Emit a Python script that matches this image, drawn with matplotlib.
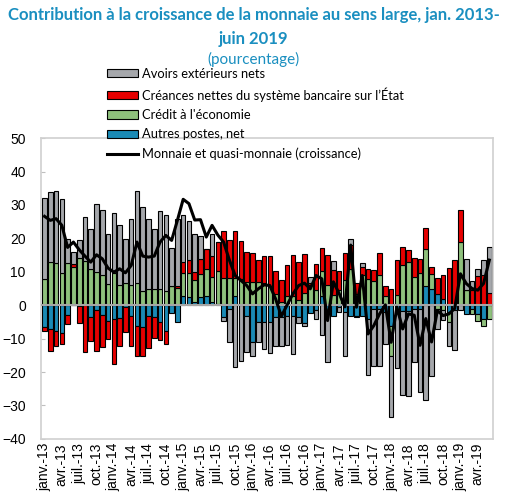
import numpy as np
import matplotlib
matplotlib.use('Agg')
import matplotlib.pyplot as plt
from matplotlib.patches import Patch
from matplotlib.lines import Line2D

# mois : janv. 2013 -> juin 2019
mois = ['janv.', 'févr.', 'mars', 'avr.', 'mai', 'juin',
        'juil.', 'août', 'sept.', 'oct.', 'nov.', 'déc.']
dates = [m + '-' + str(a) for a in range(13, 20) for m in mois][:78]

# contributions (points de pourcentage)
autres = [-6.6, -7.1, -7.6, -8.4, -2.9, 0.0, -0.3, 0.0, -3.4, -1.4, -2.9, -4.6, -4.1,
          -3.9, -0.6, -3.1, -6.3, -6.4, -3.1, -3.4, -5.1, -7.6, -2.3, -5.1, 2.7, 2.4,
          1.0, 2.4, 2.9, 0.9, 0.5, -3.6, -1.0, 2.7, 0.0, -3.1, -11.0, -4.9, -5.1, -5.0,
          -3.6, -3.6, -3.3, -3.1, -3.4, -5.3, -2.2, -1.5, 2.9, -2.0, -3.1, -0.5, -2.1,
          -3.3, -3.3, -3.1, -4.1, -1.0, -1.0, -2.1, -6.1, -1.5, -1.6, -1.6, -1.0, -1.0,
          5.7, 5.0, 3.4, 2.0, -2.1, -1.5, 0.0, -2.7, -1.0, -2.5, -4.1, 0.0]
credit = [7.9, 12.9, 12.6, 9.7, 12.6, 11.4, 14.2, 13.1, 10.7, 10.0, 8.9, 6.4, 9.6,
          6.1, 6.6, 6.1, 6.6, 4.4, 4.9, 4.9, 4.9, 4.4, 5.7, 5.2, 7.0, 7.3,
          6.5, 7.0, 8.0, 7.5, 9.6, 8.1, 8.1, 5.4, 7.9, 6.9, 6.9, 6.9, 6.5, 5.9,
          3.4, 0.9, 2.9, 2.7, 1.7, 3.7, 6.0, 4.5, 7.2, 6.0, 3.0, 4.5, 7.4,
          10.7, 3.4, 8.9, 7.9, 7.2, 9.1, 2.7, -9.0, 3.1, 12.1, 12.9, 8.5, 9.6,
          11.0, 4.2, -1.0, -1.5, -3.0, 0.0, 19.0, 4.5, -1.7, -2.2, -2.0, -4.0]
creances = [-1.2, -6.7, -4.5, -3.2, -2.8, 0.8, -5.1, -14.1, -7.4, -12.4, -9.5, -5.5, -13.5,
            -8.2, -7.3, -9.0, -9.0, -8.7, -9.8, -6.5, -5.3, -4.0, 0.0, 0.5, 3.2, 3.7,
            2.5, 4.5, 6.0, 6.3, 8.8, 14.1, 11.5, 14.1, 11.3, 9.0, 8.8, 6.5, 8.2, 8.7,
            6.7, 6.7, 9.2, 12.2, 11.2, 11.7, 0.5, 7.9, 7.0, 9.0, 7.5, 5.6, 8.3,
            7.2, 3.3, 2.5, 3.0, 3.4, 6.6, 3.2, 4.9, 10.3, 5.3, 3.5, 5.6, 4.3,
            6.4, 2.2, 4.7, 6.9, 11.1, 13.6, 9.6, 0.0, 4.5, 8.8, 8.9, 3.8]
avoirs = [24.3, 21.0, 21.7, 22.0, 7.3, 3.7, 5.2, 13.3, 12.0, 20.3, 19.7, 15.0, 18.0,
          17.8, 13.1, 19.8, 27.5, 25.0, 21.0, 18.0, 23.3, 22.5, 11.4, 20.2, 14.0, 11.8,
          11.4, 6.8, 0.0, 6.5, 0.0, -1.2, -10.0, -18.4, -16.6, -11.0, -4.2, -6.2, -8.0, -9.3,
          -8.5, -8.5, -8.6, -11.5, -1.9, -1.0, 2.0, -2.5, -8.9, -15.0, 2.6, -1.6, -13.2,
          1.8, -0.3, 1.2, -16.8, -17.1, -17.3, -9.4, -18.5, -17.3, -25.3, -25.7, -16.0, -24.9,
          -28.4, -21.1, -6.1, -3.0, -7.0, -11.8, -1.5, 9.3, 2.8, 2.1, 4.5, 13.5]
monnaie = [26.6, 25.4, 25.9, 23.9, 17.3, 18.9, 16.6, 14.7, 12.9, 15.1, 13.9, 11.1, 9.9,
           10.9, 9.7, 11.9, 18.9, 14.7, 14.4, 14.7, 18.9, 20.9, 19.4, 25.4, 31.7, 30.4,
           25.5, 25.6, 20.4, 23.9, 21.0, 18.9, 13.5, 8.9, 7.4, 5.9, 3.4, 4.9, 6.1, 5.9,
           1.9, -3.3, 0.1, 3.4, 5.9, 6.6, 4.9, 8.9, 7.9, -4.6, 7.0, 3.5, -0.5,
           18.0, -0.6, 8.9, -8.6, -6.1, -2.6, 0.1, -11.1, -0.6, -7.1, -2.6, -3.0, -12.0,
           -4.0, -11.0, -1.6, -3.1, -2.6, -1.0, 9.4, 6.5, 5.0, 4.5, 6.5, 13.5]

noms = ['Autres postes, net', "Crédit à l'économie",
        "Créances nettes du système bancaire sur l’État", 'Avoirs extérieurs nets']
couleurs = ['#1a8ab5', '#8ec07c', '#e60000', '#a5a7ab']
bleu_titre = '#1a8fc0'

x = np.arange(len(dates))

fig = plt.figure(figsize=(5.07, 4.97), dpi=100)
ax = fig.add_axes([0.081, 0.117, 0.891, 0.605])

# empilement façon Excel : positifs vers le haut, négatifs vers le bas
bas_pos = np.zeros(len(x))
bas_neg = np.zeros(len(x))
for serie, coul in zip([autres, credit, creances, avoirs], couleurs):
    v = np.array(serie)
    bas = np.where(v >= 0, bas_pos, bas_neg)
    ax.bar(x, v, bottom=bas, width=0.8, color=coul, edgecolor='black',
           linewidth=0.8, zorder=2)
    bas_pos = bas_pos + np.where(v > 0, v, 0)
    bas_neg = bas_neg + np.where(v < 0, v, 0)

ax.axhline(0, color='#a6a6a6', linewidth=1.5, zorder=3)
ax.plot(x, monnaie, color='black', linewidth=2.2, zorder=4)

ax.set_ylim(-40, 50)
ax.set_xlim(-0.6, len(x) - 0.4)
ax.set_yticks(range(-40, 51, 10))
ax.set_xticks(x[::3])
ax.set_xticklabels(dates[::3], rotation=90, fontsize=10, family='Liberation Sans')
for lab in ax.get_yticklabels():
    lab.set_family('Liberation Sans')
    lab.set_fontsize(10)
ax.tick_params(axis='y', direction='in', length=3, color='#bfbfbf', pad=11)
ax.tick_params(axis='x', length=0, pad=3)
for s in ax.spines.values():
    s.set_edgecolor('#d0d0d0')
    s.set_linewidth(1.2)

# titre
fig.text(0.5, 0.969, 'Contribution à la croissance de la monnaie au sens large, jan. 2013-',
         ha='center', va='center', fontsize=12, fontweight='bold', color=bleu_titre,
         family='Lato')
fig.text(0.5, 0.922, 'juin 2019', ha='center', va='center', fontsize=12,
         fontweight='bold', color=bleu_titre, family='Lato')
fig.text(0.5, 0.881, '(pourcentage)', ha='center', va='center', fontsize=11,
         color=bleu_titre, family='Lato')

# légende
poignees = [Patch(facecolor=couleurs[3], edgecolor='black', linewidth=0.8),
            Patch(facecolor=couleurs[2], edgecolor='black', linewidth=0.8),
            Patch(facecolor=couleurs[1], edgecolor='black', linewidth=0.8),
            Patch(facecolor=couleurs[0], edgecolor='black', linewidth=0.8),
            Line2D([0], [0], color='black', linewidth=2.2)]
etiquettes = [noms[3], noms[2], noms[1], noms[0], 'Monnaie et quasi-monnaie (croissance)']
leg = fig.legend(poignees, etiquettes, loc='upper left', bbox_to_anchor=(0.211, 0.864),
                 frameon=False, prop={'family': 'Lato', 'size': 9.25}, handlelength=2.4,
                 handleheight=0.6, handletextpad=0.3, labelspacing=0.58, borderpad=0,
                 borderaxespad=0)

fig.savefig('out.png', dpi=100)
